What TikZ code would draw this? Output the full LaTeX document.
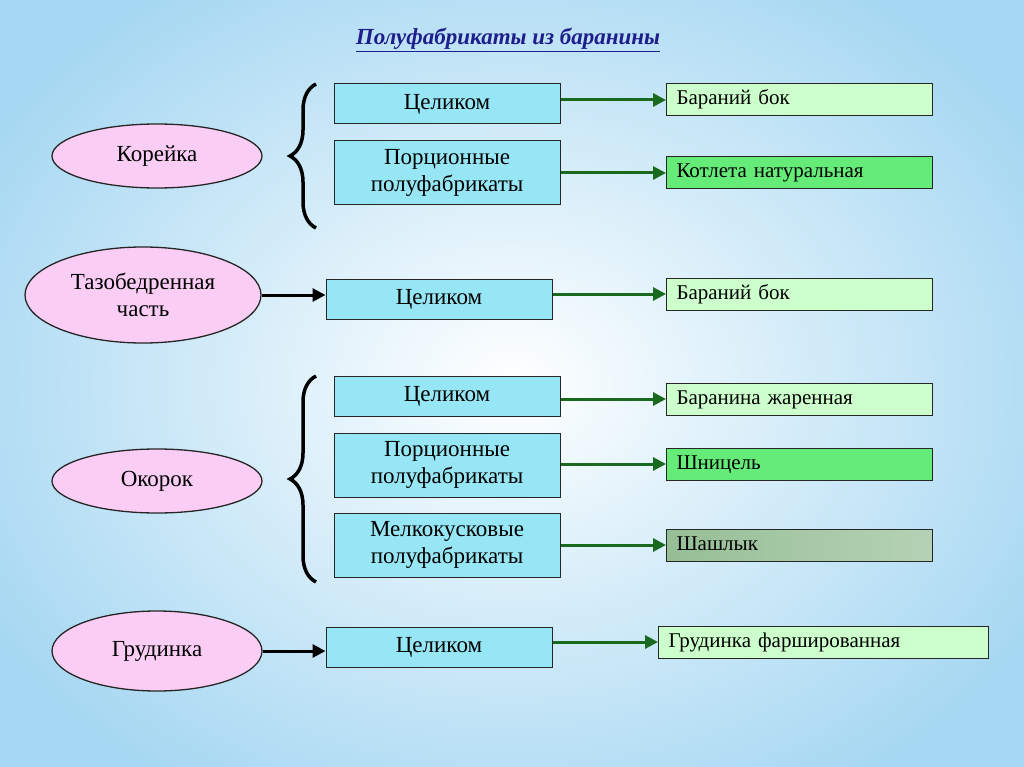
\documentclass[tikz,border=0pt]{standalone}
\usepackage{fontspec}
\setmainfont{Liberation Serif}
\usetikzlibrary{decorations.pathreplacing,arrows.meta,shapes.geometric}
\definecolor{bgout}{RGB}{165,215,242}
\definecolor{pinkf}{RGB}{250,205,245}
\definecolor{cyanf}{RGB}{150,230,245}
\definecolor{lgreen}{RGB}{205,255,205}
\definecolor{bgreen}{RGB}{100,235,120}
\definecolor{ggreen}{RGB}{150,190,150}
\definecolor{arrg}{RGB}{25,105,30}
\definecolor{titleblue}{RGB}{30,30,140}
\begin{document}
\begin{tikzpicture}[x=1pt,y=-1pt,
  ell/.style={ellipse,draw=black!85,line width=1.3pt,fill=pinkf,font=\fontsize{23}{27}\selectfont,align=center,inner sep=0pt},
  cbox/.style={draw=black!85,line width=1pt,fill=cyanf,minimum width=226pt,font=\fontsize{23}{27}\selectfont,align=center,inner sep=0pt},
  gbox/.style={draw=black!85,line width=1pt,fill=lgreen,minimum height=32pt,font=\fontsize{21}{24}\selectfont,anchor=west,inner xsep=10pt,inner ysep=0pt,text width=246pt,align=left,text height=15pt,text depth=5pt},
  garr/.style={draw=arrg,line width=3pt,-{Triangle[length=13pt,width=13pt]}},
  barr/.style={draw=black,line width=3pt,-{Triangle[length=13pt,width=13pt]}},
  brc/.style={draw=black,line width=3.5pt,decorate,decoration={brace,amplitude=26pt}}]
\useasboundingbox (0,0) rectangle (1024,767);
\shade[inner color=white,outer color=bgout] (-100,-100) rectangle (1124,867);
\node[font=\fontsize{23}{26}\selectfont\bfseries\itshape,text=titleblue] (title) at (508,40) {\underline{Полуфабрикаты из баранины}};
% ellipses
\node[ell,minimum width=210pt,minimum height=64pt] (k) at (157,156) {Корейка};
\node[ell,minimum width=236pt,minimum height=96pt] (t) at (143,295) {Тазобедренная\\часть};
\node[ell,minimum width=210pt,minimum height=64pt] (o) at (157,481) {Окорок};
\node[ell,minimum width=210pt,minimum height=80pt] (g) at (157,651) {Грудинка};
% cyan boxes
\node[cbox,minimum height=40pt] (c1) at (447,104) {\strut Целиком};
\node[cbox,minimum height=64pt] (c2) at (447,173) {Порционные\\полуфабрикаты};
\node[cbox,minimum height=40pt] (c3) at (439,299) {\strut Целиком};
\node[cbox,minimum height=40pt] (c4) at (447,396) {\strut Целиком};
\node[cbox,minimum height=64pt] (c5) at (447,465) {Порционные\\полуфабрикаты};
\node[cbox,minimum height=64pt] (c6) at (447,545) {Мелкокусковые\\полуфабрикаты};
\node[cbox,minimum height=40pt] (c7) at (439,647) {\strut Целиком};
% green boxes
\node[gbox] (r1) at (666,100) {Бараний бок};
\node[gbox,fill=bgreen] (r2) at (666,173) {Котлета натуральная};
\node[gbox] (r3) at (666,294) {Бараний бок};
\node[gbox] (r4) at (666,399) {Баранина жаренная};
\node[gbox,fill=bgreen] (r5) at (666,464) {Шницель};
\node[gbox,left color=ggreen,right color=ggreen!70!white] (r6) at (666,545) {Шашлык};
\node[gbox,text width=310pt] (r7) at (658,642) {Грудинка фаршированная};
% arrows
\draw[garr] (c1.east |- r1.west) -- (r1.west);
\draw[garr] (c2.east |- r2.west) -- (r2.west);
\draw[garr] (c3.east |- r3.west) -- (r3.west);
\draw[garr] (c4.east |- r4.west) -- (r4.west);
\draw[garr] (c5.east |- r5.west) -- (r5.west);
\draw[garr] (c6.east |- r6.west) -- (r6.west);
\draw[garr] (c7.east |- r7.west) -- (r7.west);
\draw[barr] (t.east) -- (t.east -| c3.west);
\draw[barr] (g.east) -- (g.east -| c7.west);
% braces
\coordinate (b1a) at (316,228); \coordinate (b1b) at (316,84);
\coordinate (b2a) at (316,582); \coordinate (b2b) at (316,376);
\draw[brc] (b1a) -- (b1b);
\draw[brc] (b2a) -- (b2b);
\end{tikzpicture}
\end{document}
